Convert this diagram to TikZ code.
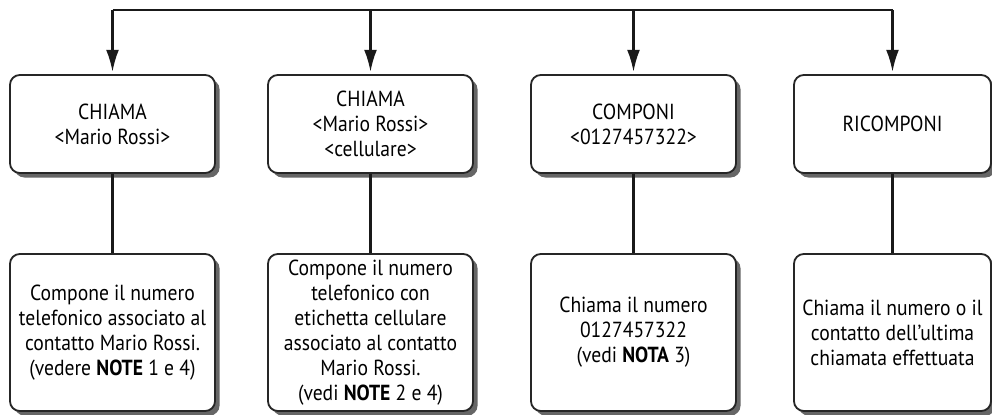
\documentclass[tikz,border=0pt]{standalone}
\usepackage{fontspec}
\setmainfont{PT Sans}[FakeStretch=0.9]
\usetikzlibrary{arrows.meta,shadows}

\tikzset{
  cmdbox/.style={draw=black!85,line width=1.3pt,rounded corners=7pt,fill=white,
    drop shadow={shadow xshift=3.2pt,shadow yshift=-3.2pt,fill=black!60,opacity=1},
    align=center,inner sep=2pt,minimum width=5.125cm,
    font=\fontsize{15.5}{17.8}\selectfont},
  topbox/.style={cmdbox,minimum height=2.45cm},
  resbox/.style={cmdbox,minimum height=3.925cm},
  link/.style={line width=1.7pt,black!90},
}

\begin{document}
\begin{tikzpicture}[x=0.025cm,y=0.025cm,>={Latex[length=0.55cm,width=0.32cm]}]
\useasboundingbox (0,0) rectangle (992,414);
% commands
\node[topbox] (cmd1) at (112.5,290) {CHIAMA\\<Mario Rossi>};
\node[topbox] (cmd2) at (370.5,290) {CHIAMA\\<Mario Rossi>\\<cellulare>};
\node[topbox] (cmd3) at (633.5,290) {COMPONI\\<0127457322>};
\node[topbox,minimum width=4.925cm] (cmd4) at (892.5,290) {RICOMPONI};
% results
\node[resbox] (res1) at (112.5,81.5) {Compone il numero\\telefonico associato al\\contatto Mario Rossi.\\(vedere \textbf{NOTE} 1 e 4)};
\node[resbox] (res2) at (370.5,81.5) {Compone il numero\\telefonico con\\etichetta cellulare\\associato al contatto\\Mario Rossi.\\(vedi \textbf{NOTE} 2 e 4)};
\node[resbox] (res3) at (633.5,81.5) {Chiama il numero\\0127457322\\(vedi \textbf{NOTA} 3)};
\node[resbox,minimum width=4.925cm] (res4) at (892.5,81.5) {Chiama il numero o il\\contatto dell'ultima\\chiamata effettuata};
% top bar
\coordinate (bar) at (0,404);
\draw[link] (cmd1.north |- bar) -- (cmd4.north |- bar);
\foreach \i in {1,2,3,4}{
  \draw[link,->,shorten >=1.5pt] (cmd\i.north |- bar) -- (cmd\i.north);
  \draw[link] (cmd\i) -- (res\i);
}
\end{tikzpicture}
\end{document}
